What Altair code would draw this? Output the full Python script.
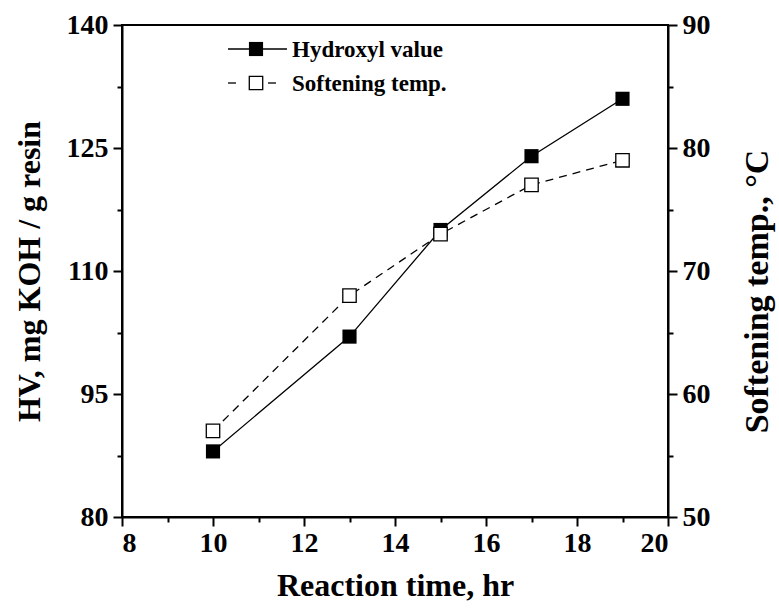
import altair as alt
import pandas as pd

# ---- data ----
time_hr = [10, 13, 15, 17, 19]
hydroxyl_value = [88, 102, 115, 124, 131]
softening_temp = [57, 68, 73, 77, 79]

x_ticks = list(range(8, 21))                    # majors every 2, minors at odd hours
left_ticks = [80 + 7.5 * i for i in range(9)]   # majors every 15
right_ticks = list(range(50, 95, 5))            # majors every 10

series_names = ["Hydroxyl value", "Softening temp."]

df = pd.DataFrame({"t": time_hr, "hv": hydroxyl_value, "sp": softening_temp})

FONT = "Liberation Serif"
W, H = 546, 492
TICK_FS = 28
TITLE_FS = 32

x_enc = alt.X(
    "t:Q",
    scale=alt.Scale(domain=[8, 20], nice=False, zero=False),
    axis=alt.Axis(
        values=x_ticks,
        labelExpr="datum.value % 2 == 0 ? datum.label : ''",
        tickSize={"condition": {"test": "datum.value % 2 == 0", "value": 9}, "value": 5},
        title="Reaction time, hr",
        titleX=W / 2, titleY=68, titleAlign="center", titleBaseline="middle",
        labelPadding=3,
    ),
)

left_y = alt.Y(
    "hv:Q",
    scale=alt.Scale(domain=[80, 140], nice=False, zero=False),
    axis=alt.Axis(
        orient="left",
        values=left_ticks,
        labelExpr="(datum.value - 80) % 15 == 0 ? datum.label : ''",
        tickSize={"condition": {"test": "(datum.value - 80) % 15 == 0", "value": 9}, "value": 5},
        title="HV, mg KOH / g resin",
        titleX=-93, titleY=H / 2, titleAngle=270, titleAlign="center", titleBaseline="middle",
        labelPadding=5,
    ),
)

right_y = alt.Y(
    "sp:Q",
    scale=alt.Scale(domain=[50, 90], nice=False, zero=False),
    axis=alt.Axis(
        orient="right",
        values=right_ticks,
        labelExpr="datum.value % 10 == 0 ? datum.label : ''",
        tickSize={"condition": {"test": "datum.value % 10 == 0", "value": 9}, "value": 5},
        title="Softening temp., °C",
        titleX=89, titleY=266, titleAngle=270, titleAlign="center", titleBaseline="middle",
        titleFontSize=34,
        labelPadding=5,
    ),
)

base = alt.Chart(df)

hv_line = base.mark_line(color="black", strokeWidth=1.3).encode(x=x_enc, y=left_y)
hv_pts = base.mark_square(size=200, color="black", opacity=1).encode(x=x_enc, y=left_y)

sp_line = base.mark_line(color="black", strokeWidth=1.3, strokeDash=[8, 6]).encode(x=x_enc, y=right_y)
sp_pts = base.mark_square(size=180, fill="white", stroke="black", strokeWidth=1.3, opacity=1).encode(x=x_enc, y=right_y)


def legend_entry(label, y, filled, dashed):
    src = alt.Chart(pd.DataFrame({"label": [label]}))
    segs = [(106, 114), (146, 154)] if dashed else [(106, 165)]
    parts = [
        src.mark_rule(color="black", strokeWidth=1.3).encode(
            x=alt.value(a), x2=alt.value(b), y=alt.value(y)
        )
        for a, b in segs
    ]
    if filled:
        pt = src.mark_square(size=200, color="black", opacity=1)
    else:
        pt = src.mark_square(size=180, fill="white", stroke="black", strokeWidth=1.3, opacity=1)
    parts.append(pt.encode(x=alt.value(134), y=alt.value(y)))
    parts.append(
        src.mark_text(align="left", baseline="middle", font=FONT, fontSize=23,
                      fontWeight="bold", color="black").encode(
            x=alt.value(170), y=alt.value(y + 1), text="label:N"
        )
    )
    return parts


legend_parts = legend_entry(series_names[0], 24, True, False) + legend_entry(series_names[1], 58, False, True)

left_layer = alt.layer(hv_line, hv_pts, *legend_parts)
right_layer = alt.layer(sp_line, sp_pts)

chart = (
    alt.layer(left_layer, right_layer)
    .resolve_scale(y="independent")
    .properties(
        width=W, height=H,
        autosize=alt.AutoSizeParams(type="none"),
        padding={"left": 122, "top": 25, "right": 111, "bottom": 92},
        background="white",
    )
    .configure_view(stroke="black", strokeWidth=2)
    .configure_axis(
        grid=False,
        domainColor="black", domainWidth=2,
        tickColor="black", tickWidth=2,
        labelFont=FONT, labelFontSize=TICK_FS, labelFontWeight="bold", labelColor="black",
        titleFont=FONT, titleFontSize=TITLE_FS, titleFontWeight="bold", titleColor="black",
        labelOverlap=False,
    )
)

chart.save("out.html", embed_options={"renderer": "svg", "actions": False})
